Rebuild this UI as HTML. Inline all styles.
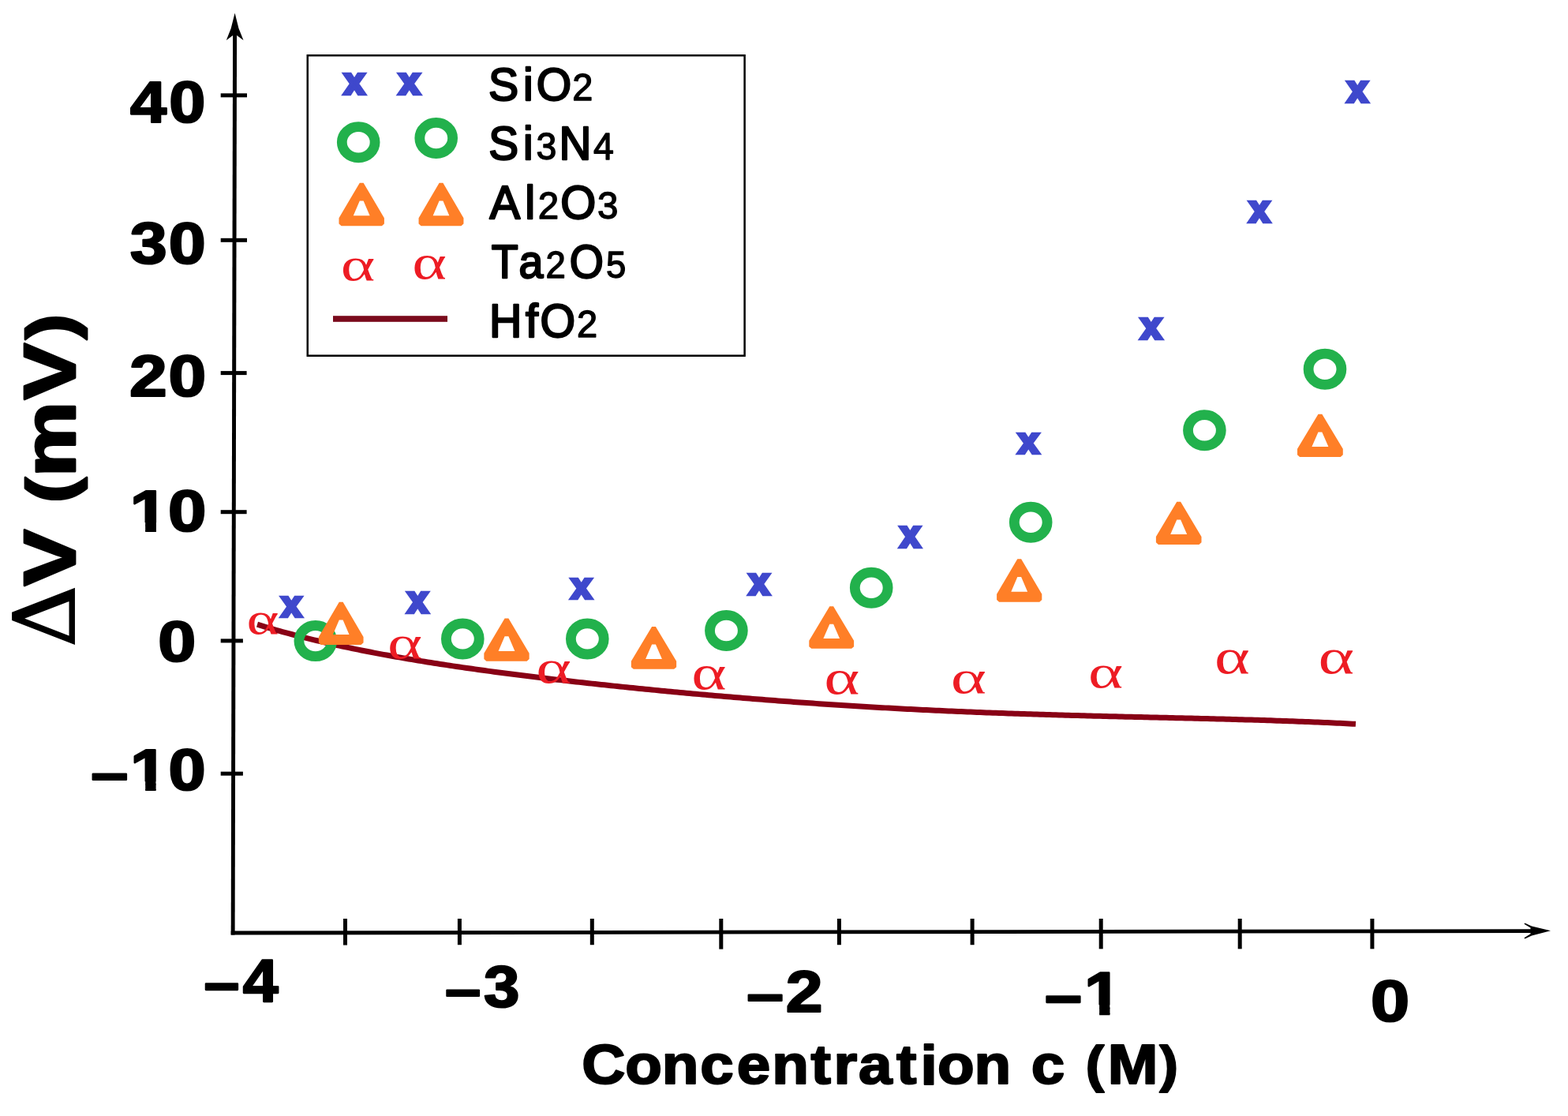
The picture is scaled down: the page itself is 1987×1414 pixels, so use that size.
<!DOCTYPE html>
<html><head><meta charset="utf-8"><title>Delta V vs concentration</title>
<style>html,body{margin:0;padding:0;background:#fff;overflow:hidden}svg{display:block}</style></head>
<body><svg width="1987" height="1414" viewBox="0 0 1987 1414">
<defs><clipPath id="nf1" clipPathUnits="userSpaceOnUse"><path clip-rule="evenodd" d="M-100000,-100000 H100000 V100000 H-100000 Z M190.62,-15.00 H211.22 V4.00 H190.62 Z M227.02,-15.00 H245.62 V4.00 H227.02 Z"/></clipPath><clipPath id="nf2" clipPathUnits="userSpaceOnUse"><path clip-rule="evenodd" d="M-100000,-100000 H100000 V100000 H-100000 Z M196.36,-15.00 H216.96 V4.00 H196.36 Z M232.76,-15.00 H251.36 V4.00 H232.76 Z"/></clipPath><clipPath id="nf3" clipPathUnits="userSpaceOnUse"><path clip-rule="evenodd" d="M-100000,-100000 H100000 V100000 H-100000 Z M1630.24,-15.00 H1650.84 V4.00 H1630.24 Z M1666.64,-15.00 H1685.24 V4.00 H1666.64 Z"/></clipPath></defs>
<rect width="1987" height="1414" fill="#fff"/>
<g id="axes" fill="#000">
<polygon points="295.1,40 300.1,40 297.6,1184.5 292.7,1184.5"/>
<polygon points="292.7,1179.6 1942,1177.2 1942,1181.9 292.7,1184.5"/>
<path d="M297.6,16.5 L302.5,36 L308.5,51 L297.6,43 L286.8,51 L292.7,36 Z"/>
<path d="M1965,1179.3 L1941,1173.4 L1932.3,1169.4 L1931.5,1170.8 L1939.5,1175.6 L1939.5,1183.2 L1931.5,1188.2 L1932.3,1189.6 L1941,1185.4 Z"/>
<rect x="279.7" y="118.3" width="33.3" height="5"/>
<rect x="279.7" y="301.8" width="33.3" height="5"/>
<rect x="279.7" y="470.1" width="32.9" height="5"/>
<rect x="279.7" y="646.2" width="32.9" height="5"/>
<rect x="279.7" y="809.4" width="28.2" height="5"/>
<rect x="279.7" y="977.7" width="28.2" height="5"/>
<rect x="435.0" y="1164" width="5" height="33.5"/>
<rect x="579.9" y="1164" width="5" height="33.2"/>
<rect x="747.8" y="1164" width="5" height="33.2"/>
<rect x="911.3" y="1164" width="5" height="38.6"/>
<rect x="1060.9" y="1164" width="5" height="33.2"/>
<rect x="1229.6" y="1164" width="5" height="33.2"/>
<rect x="1392.7" y="1164" width="5" height="38.3"/>
<rect x="1568.7" y="1164" width="5" height="38.3"/>
<rect x="1736.4" y="1164" width="5" height="38.3"/>
</g>
<rect x="389.75" y="70.25" width="553.85" height="380.45" fill="none" stroke="#000" stroke-width="2.5"/>
<rect x="422" y="400.2" width="145" height="7.6" fill="#7a0a1c"/>
<polyline points="326.0,791.20 330.0,792.42 334.0,793.63 338.0,794.82 342.0,795.99 346.0,797.14 350.0,798.28 354.0,799.41 358.0,800.52 362.0,801.61 366.0,802.69 370.0,803.75 374.0,804.80 378.0,805.84 382.0,806.86 386.0,807.86 390.0,808.86 394.0,809.84 398.0,810.81 402.0,811.76 406.0,812.71 410.0,813.64 414.0,814.56 418.0,815.46 422.0,816.36 426.0,817.25 430.0,818.12 434.0,818.98 438.0,819.84 442.0,820.68 446.0,821.51 450.0,822.33 454.0,823.15 458.0,823.95 462.0,824.74 466.0,825.53 470.0,826.30 474.0,827.07 478.0,827.83 482.0,828.58 486.0,829.32 490.0,830.05 494.0,830.78 498.0,831.50 502.0,832.21 506.0,832.91 510.0,833.61 514.0,834.30 518.0,834.98 522.0,835.65 526.0,836.32 530.0,836.98 534.0,837.64 538.0,838.28 542.0,838.93 546.0,839.56 550.0,840.19 554.0,840.82 558.0,841.43 562.0,842.05 566.0,842.66 570.0,843.26 574.0,843.85 578.0,844.45 582.0,845.03 586.0,845.61 590.0,846.19 594.0,846.76 598.0,847.33 602.0,847.89 606.0,848.45 610.0,849.01 614.0,849.55 618.0,850.10 622.0,850.64 626.0,851.18 630.0,851.71 634.0,852.24 638.0,852.77 642.0,853.29 646.0,853.80 650.0,854.32 654.0,854.83 658.0,855.33 662.0,855.84 666.0,856.34 670.0,856.83 674.0,857.33 678.0,857.82 682.0,858.30 686.0,858.79 690.0,859.27 694.0,859.75 698.0,860.22 702.0,860.69 706.0,861.16 710.0,861.62 714.0,862.09 718.0,862.55 722.0,863.00 726.0,863.46 730.0,863.91 734.0,864.36 738.0,864.80 742.0,865.25 746.0,865.69 750.0,866.13 754.0,866.56 758.0,867.00 762.0,867.43 766.0,867.85 770.0,868.28 774.0,868.70 778.0,869.12 782.0,869.54 786.0,869.96 790.0,870.37 794.0,870.78 798.0,871.19 802.0,871.60 806.0,872.00 810.0,872.41 814.0,872.81 818.0,873.20 822.0,873.60 826.0,873.99 830.0,874.38 834.0,874.77 838.0,875.16 842.0,875.54 846.0,875.92 850.0,876.30 854.0,876.68 858.0,877.06 862.0,877.43 866.0,877.80 870.0,878.17 874.0,878.54 878.0,878.90 882.0,879.26 886.0,879.62 890.0,879.98 894.0,880.34 898.0,880.69 902.0,881.04 906.0,881.39 910.0,881.74 914.0,882.08 918.0,882.42 922.0,882.76 926.0,883.10 930.0,883.44 934.0,883.77 938.0,884.10 942.0,884.43 946.0,884.76 950.0,885.08 954.0,885.40 958.0,885.72 962.0,886.04 966.0,886.36 970.0,886.67 974.0,886.98 978.0,887.29 982.0,887.60 986.0,887.90 990.0,888.20 994.0,888.50 998.0,888.80 1002.0,889.10 1006.0,889.39 1010.0,889.68 1014.0,889.97 1018.0,890.25 1022.0,890.54 1026.0,890.82 1030.0,891.10 1034.0,891.37 1038.0,891.65 1042.0,891.92 1046.0,892.19 1050.0,892.46 1054.0,892.72 1058.0,892.98 1062.0,893.24 1066.0,893.50 1070.0,893.76 1074.0,894.01 1078.0,894.26 1082.0,894.51 1086.0,894.76 1090.0,895.00 1094.0,895.24 1098.0,895.48 1102.0,895.72 1106.0,895.95 1110.0,896.18 1114.0,896.41 1118.0,896.64 1122.0,896.87 1126.0,897.09 1130.0,897.31 1134.0,897.53 1138.0,897.74 1142.0,897.96 1146.0,898.17 1150.0,898.38 1154.0,898.58 1158.0,898.79 1162.0,898.99 1166.0,899.19 1170.0,899.39 1174.0,899.58 1178.0,899.78 1182.0,899.97 1186.0,900.15 1190.0,900.34 1194.0,900.52 1198.0,900.71 1202.0,900.89 1206.0,901.06 1210.0,901.24 1214.0,901.41 1218.0,901.58 1222.0,901.75 1226.0,901.92 1230.0,902.08 1234.0,902.25 1238.0,902.41 1242.0,902.57 1246.0,902.72 1250.0,902.88 1254.0,903.03 1258.0,903.18 1262.0,903.33 1266.0,903.48 1270.0,903.62 1274.0,903.77 1278.0,903.91 1282.0,904.05 1286.0,904.19 1290.0,904.32 1294.0,904.46 1298.0,904.59 1302.0,904.72 1306.0,904.85 1310.0,904.98 1314.0,905.10 1318.0,905.23 1322.0,905.35 1326.0,905.47 1330.0,905.59 1334.0,905.71 1338.0,905.83 1342.0,905.94 1346.0,906.06 1350.0,906.17 1354.0,906.28 1358.0,906.40 1362.0,906.50 1366.0,906.61 1370.0,906.72 1374.0,906.83 1378.0,906.93 1382.0,907.04 1386.0,907.14 1390.0,907.24 1394.0,907.34 1398.0,907.44 1402.0,907.54 1406.0,907.64 1410.0,907.74 1414.0,907.84 1418.0,907.94 1422.0,908.03 1426.0,908.13 1430.0,908.23 1434.0,908.32 1438.0,908.42 1442.0,908.51 1446.0,908.60 1450.0,908.70 1454.0,908.79 1458.0,908.88 1462.0,908.98 1466.0,909.07 1470.0,909.17 1474.0,909.26 1478.0,909.35 1482.0,909.45 1486.0,909.54 1490.0,909.63 1494.0,909.73 1498.0,909.82 1502.0,909.92 1506.0,910.01 1510.0,910.11 1514.0,910.21 1518.0,910.31 1522.0,910.40 1526.0,910.50 1530.0,910.60 1534.0,910.70 1538.0,910.81 1542.0,910.91 1546.0,911.01 1550.0,911.12 1554.0,911.22 1558.0,911.33 1562.0,911.44 1566.0,911.55 1570.0,911.66 1574.0,911.78 1578.0,911.89 1582.0,912.01 1586.0,912.12 1590.0,912.24 1594.0,912.36 1598.0,912.49 1602.0,912.61 1606.0,912.74 1610.0,912.87 1614.0,913.00 1618.0,913.13 1622.0,913.27 1626.0,913.41 1630.0,913.55 1634.0,913.69 1638.0,913.83 1642.0,913.98 1646.0,914.13 1650.0,914.28 1654.0,914.44 1658.0,914.60 1662.0,914.76 1666.0,914.92 1670.0,915.09 1674.0,915.26 1678.0,915.43 1682.0,915.61 1686.0,915.79 1690.0,915.97 1694.0,916.16 1698.0,916.35 1702.0,916.54 1706.0,916.74 1710.0,916.94 1714.0,917.14 1718.0,917.35" fill="none" stroke="#880015" stroke-width="7" stroke-linejoin="round"/>
<ellipse cx="454.2" cy="180.2" rx="20.9" ry="19.6" fill="none" stroke="#22B14C" stroke-width="12.8"/>
<ellipse cx="552.7" cy="175" rx="20.9" ry="19.6" fill="none" stroke="#22B14C" stroke-width="12.8"/>
<ellipse cx="399.8" cy="812.1" rx="20.9" ry="19.6" fill="none" stroke="#22B14C" stroke-width="12.8"/>
<ellipse cx="586.3" cy="809.4" rx="20.9" ry="19.6" fill="none" stroke="#22B14C" stroke-width="12.8"/>
<ellipse cx="744.3" cy="809.4" rx="20.9" ry="19.6" fill="none" stroke="#22B14C" stroke-width="12.8"/>
<ellipse cx="920.4" cy="799" rx="20.9" ry="19.6" fill="none" stroke="#22B14C" stroke-width="12.8"/>
<ellipse cx="1104.2" cy="744.8" rx="20.9" ry="19.6" fill="none" stroke="#22B14C" stroke-width="12.8"/>
<ellipse cx="1306.2" cy="661.7" rx="20.9" ry="19.6" fill="none" stroke="#22B14C" stroke-width="12.8"/>
<ellipse cx="1526.4" cy="545.2" rx="20.9" ry="19.6" fill="none" stroke="#22B14C" stroke-width="12.8"/>
<ellipse cx="1679" cy="467.8" rx="20.9" ry="19.6" fill="none" stroke="#22B14C" stroke-width="12.8"/>
<path transform="translate(458.2,231.7) scale(1.0035,1.0055)" d="M-2.4,0 L2.4,0 L28.6,44.2 L28.6,51.6 L25.6,54.3 L-25.6,54.3 L-28.6,51.6 L-28.6,44.2 Z M-2.4,22.7 L2.4,22.7 L10.4,41.4 L-10.4,41.4 Z" fill="#FF7F27" fill-rule="evenodd"/>
<path transform="translate(559,231.7) scale(0.9948,1.0055)" d="M-2.4,0 L2.4,0 L28.6,44.2 L28.6,51.6 L25.6,54.3 L-25.6,54.3 L-28.6,51.6 L-28.6,44.2 Z M-2.4,22.7 L2.4,22.7 L10.4,41.4 L-10.4,41.4 Z" fill="#FF7F27" fill-rule="evenodd"/>
<path transform="translate(432.2,762.7) scale(0.9913,1.0000)" d="M-2.4,0 L2.4,0 L28.6,44.2 L28.6,51.6 L25.6,54.3 L-25.6,54.3 L-28.6,51.6 L-28.6,44.2 Z M-2.4,22.7 L2.4,22.7 L10.4,41.4 L-10.4,41.4 Z" fill="#FF7F27" fill-rule="evenodd"/>
<path transform="translate(642,783.5) scale(1.0017,1.0000)" d="M-2.4,0 L2.4,0 L28.6,44.2 L28.6,51.6 L25.6,54.3 L-25.6,54.3 L-28.6,51.6 L-28.6,44.2 Z M-2.4,22.7 L2.4,22.7 L10.4,41.4 L-10.4,41.4 Z" fill="#FF7F27" fill-rule="evenodd"/>
<path transform="translate(828.5,794.1) scale(1.0017,0.9890)" d="M-2.4,0 L2.4,0 L28.6,44.2 L28.6,51.6 L25.6,54.3 L-25.6,54.3 L-28.6,51.6 L-28.6,44.2 Z M-2.4,22.7 L2.4,22.7 L10.4,41.4 L-10.4,41.4 Z" fill="#FF7F27" fill-rule="evenodd"/>
<path transform="translate(1053.7,768.3) scale(0.9930,0.9853)" d="M-2.4,0 L2.4,0 L28.6,44.2 L28.6,51.6 L25.6,54.3 L-25.6,54.3 L-28.6,51.6 L-28.6,44.2 Z M-2.4,22.7 L2.4,22.7 L10.4,41.4 L-10.4,41.4 Z" fill="#FF7F27" fill-rule="evenodd"/>
<path transform="translate(1291.7,708.3) scale(1.0000,1.0037)" d="M-2.4,0 L2.4,0 L28.6,44.2 L28.6,51.6 L25.6,54.3 L-25.6,54.3 L-28.6,51.6 L-28.6,44.2 Z M-2.4,22.7 L2.4,22.7 L10.4,41.4 L-10.4,41.4 Z" fill="#FF7F27" fill-rule="evenodd"/>
<path transform="translate(1493.7,635.7) scale(1.0070,1.0000)" d="M-2.4,0 L2.4,0 L28.6,44.2 L28.6,51.6 L25.6,54.3 L-25.6,54.3 L-28.6,51.6 L-28.6,44.2 Z M-2.4,22.7 L2.4,22.7 L10.4,41.4 L-10.4,41.4 Z" fill="#FF7F27" fill-rule="evenodd"/>
<path transform="translate(1672.9,524.8) scale(1.0105,0.9963)" d="M-2.4,0 L2.4,0 L28.6,44.2 L28.6,51.6 L25.6,54.3 L-25.6,54.3 L-28.6,51.6 L-28.6,44.2 Z M-2.4,22.7 L2.4,22.7 L10.4,41.4 L-10.4,41.4 Z" fill="#FF7F27" fill-rule="evenodd"/>
<text transform="matrix(0.4625 0 0 0.4603 436.20 118.70)" font-family="'Liberation Sans', Arial, sans-serif" font-weight="bold" font-size="100" fill="#3F48CC" stroke="#3F48CC" stroke-width="10" stroke-linejoin="miter">x</text>
<text transform="matrix(0.4694 0 0 0.4603 505.76 118.70)" font-family="'Liberation Sans', Arial, sans-serif" font-weight="bold" font-size="100" fill="#3F48CC" stroke="#3F48CC" stroke-width="10" stroke-linejoin="miter">x</text>
<text transform="matrix(0.4542 0 0 0.4460 356.63 780.77)" font-family="'Liberation Sans', Arial, sans-serif" font-weight="bold" font-size="100" fill="#3F48CC" stroke="#3F48CC" stroke-width="10" stroke-linejoin="miter">x</text>
<text transform="matrix(0.4625 0 0 0.4540 516.40 775.93)" font-family="'Liberation Sans', Arial, sans-serif" font-weight="bold" font-size="100" fill="#3F48CC" stroke="#3F48CC" stroke-width="10" stroke-linejoin="miter">x</text>
<text transform="matrix(0.4583 0 0 0.4460 723.97 757.67)" font-family="'Liberation Sans', Arial, sans-serif" font-weight="bold" font-size="100" fill="#3F48CC" stroke="#3F48CC" stroke-width="10" stroke-linejoin="miter">x</text>
<text transform="matrix(0.4611 0 0 0.4556 949.19 752.62)" font-family="'Liberation Sans', Arial, sans-serif" font-weight="bold" font-size="100" fill="#3F48CC" stroke="#3F48CC" stroke-width="10" stroke-linejoin="miter">x</text>
<text transform="matrix(0.4542 0 0 0.4556 1140.83 693.12)" font-family="'Liberation Sans', Arial, sans-serif" font-weight="bold" font-size="100" fill="#3F48CC" stroke="#3F48CC" stroke-width="10" stroke-linejoin="miter">x</text>
<text transform="matrix(0.4625 0 0 0.4524 1290.40 574.14)" font-family="'Liberation Sans', Arial, sans-serif" font-weight="bold" font-size="100" fill="#3F48CC" stroke="#3F48CC" stroke-width="10" stroke-linejoin="miter">x</text>
<text transform="matrix(0.4708 0 0 0.4603 1445.87 429.30)" font-family="'Liberation Sans', Arial, sans-serif" font-weight="bold" font-size="100" fill="#3F48CC" stroke="#3F48CC" stroke-width="10" stroke-linejoin="miter">x</text>
<text transform="matrix(0.4597 0 0 0.4540 1583.18 281.43)" font-family="'Liberation Sans', Arial, sans-serif" font-weight="bold" font-size="100" fill="#3F48CC" stroke="#3F48CC" stroke-width="10" stroke-linejoin="miter">x</text>
<text transform="matrix(0.4597 0 0 0.4556 1707.38 128.82)" font-family="'Liberation Sans', Arial, sans-serif" font-weight="bold" font-size="100" fill="#3F48CC" stroke="#3F48CC" stroke-width="10" stroke-linejoin="miter">x</text>
<text transform="matrix(0.8304 0 0 0.5875 431.68 355.21)" font-family="'Liberation Serif', 'Times New Roman', serif" font-size="100" fill="#ED1C24">α</text>
<text transform="matrix(0.8348 0 0 0.6083 522.16 353.49)" font-family="'Liberation Serif', 'Times New Roman', serif" font-size="100" fill="#ED1C24">α</text>
<text transform="matrix(0.7826 0 0 0.5729 312.57 802.73)" font-family="'Liberation Serif', 'Times New Roman', serif" font-size="100" fill="#ED1C24">α</text>
<text transform="matrix(0.8413 0 0 0.5854 490.93 834.11)" font-family="'Liberation Serif', 'Times New Roman', serif" font-size="100" fill="#ED1C24">α</text>
<text transform="matrix(0.8543 0 0 0.5875 679.18 865.41)" font-family="'Liberation Serif', 'Times New Roman', serif" font-size="100" fill="#ED1C24">α</text>
<text transform="matrix(0.8457 0 0 0.6042 876.32 873.40)" font-family="'Liberation Serif', 'Times New Roman', serif" font-size="100" fill="#ED1C24">α</text>
<text transform="matrix(0.8609 0 0 0.6021 1044.26 878.60)" font-family="'Liberation Serif', 'Times New Roman', serif" font-size="100" fill="#ED1C24">α</text>
<text transform="matrix(0.8609 0 0 0.5896 1204.66 878.01)" font-family="'Liberation Serif', 'Times New Roman', serif" font-size="100" fill="#ED1C24">α</text>
<text transform="matrix(0.8435 0 0 0.5875 1378.93 870.61)" font-family="'Liberation Serif', 'Times New Roman', serif" font-size="100" fill="#ED1C24">α</text>
<text transform="matrix(0.8543 0 0 0.6292 1538.88 853.37)" font-family="'Liberation Serif', 'Times New Roman', serif" font-size="100" fill="#ED1C24">α</text>
<text transform="matrix(0.8696 0 0 0.6292 1670.52 853.37)" font-family="'Liberation Serif', 'Times New Roman', serif" font-size="100" fill="#ED1C24">α</text>
<text transform="matrix(0.8297 0 0 0.7356 0 155.23)" x="198.87 258.27" y="0" font-family="'Liberation Sans', Arial, sans-serif" font-weight="bold" font-size="100" fill="#000" stroke="#000" stroke-width="3.0" stroke-linejoin="round">40</text>
<text transform="matrix(0.8446 0 0 0.7438 0 334.01)" x="195.11 253.21" y="0" font-family="'Liberation Sans', Arial, sans-serif" font-weight="bold" font-size="100" fill="#000" stroke="#000" stroke-width="3.0" stroke-linejoin="round">30</text>
<text transform="matrix(0.8588 0 0 0.7397 0 502.22)" x="190.94 248.58" y="0" font-family="'Liberation Sans', Arial, sans-serif" font-weight="bold" font-size="100" fill="#000" stroke="#000" stroke-width="3.0" stroke-linejoin="round">20</text>
<text transform="matrix(0.8719 0 0 0.7397 0 673.12)" x="188.62 244.25" y="0" clip-path="url(#nf1)" font-family="'Liberation Sans', Arial, sans-serif" font-weight="bold" font-size="100" fill="#000" stroke="#000" stroke-width="3.0" stroke-linejoin="round">10</text>
<text transform="matrix(0.8647 0 0 0.7247 0 838.15)" x="231.61" y="0" font-family="'Liberation Sans', Arial, sans-serif" font-weight="bold" font-size="100" fill="#000" stroke="#000" stroke-width="3.0" stroke-linejoin="round">0</text>
<text transform="matrix(0.8490 0 0 0.7329 0 1001.33)" x="135.89 194.36 251.46" y="3.42 0.00 0.00" clip-path="url(#nf2)" font-family="'Liberation Sans', Arial, sans-serif" font-weight="bold" font-size="100" fill="#000" stroke="#000" stroke-width="3.0" stroke-linejoin="round">–10</text>
<text transform="matrix(0.8080 0 0 0.7521 0 1268.75)" x="320.07 380.89" y="2.87 0.00" font-family="'Liberation Sans', Arial, sans-serif" font-weight="bold" font-size="100" fill="#000" stroke="#000" stroke-width="3.0" stroke-linejoin="round">–4</text>
<text transform="matrix(0.8163 0 0 0.7356 0 1275.83)" x="691.06 751.04" y="3.44 0.00" font-family="'Liberation Sans', Arial, sans-serif" font-weight="bold" font-size="100" fill="#000" stroke="#000" stroke-width="3.0" stroke-linejoin="round">–3</text>
<text transform="matrix(0.8416 0 0 0.7417 0 1281.86)" x="1124.39 1183.17" y="2.25 0.00" font-family="'Liberation Sans', Arial, sans-serif" font-weight="bold" font-size="100" fill="#000" stroke="#000" stroke-width="3.0" stroke-linejoin="round">–2</text>
<text transform="matrix(0.8439 0 0 0.7606 0 1284.54)" x="1568.98 1628.24" y="2.89 0.00" clip-path="url(#nf3)" font-family="'Liberation Sans', Arial, sans-serif" font-weight="bold" font-size="100" fill="#000" stroke="#000" stroke-width="3.0" stroke-linejoin="round">–1</text>
<text transform="matrix(0.8843 0 0 0.7397 0 1293.52)" x="1964.38" y="0" font-family="'Liberation Sans', Arial, sans-serif" font-weight="bold" font-size="100" fill="#000" stroke="#000" stroke-width="3.0" stroke-linejoin="round">0</text>
<text transform="matrix(0.7646 0 0 0.7014 0 1372.90)" x="964.33 1036.15 1097.03 1160.35 1221.22 1279.28 1343.85 1381.94 1422.89 1485.61 1525.54 1553.79 1614.53 1648.53 1708.97 1742.97 1799.45 1835.87 1922.07" y="0.00 0.00 0.00 0.00 0.00 0.00 0.00 0.00 0.00 0.00 0.86 0.00 0.00 0.00 0.00 0.00 -2.73 0.00 -2.73" font-family="'Liberation Sans', Arial, sans-serif" font-weight="bold" font-size="100" fill="#000" stroke="#000" stroke-width="3.0" stroke-linejoin="round">Concentration c <tspan font-size="92.0">(</tspan>M<tspan font-size="92.0">)</tspan></text>
<text transform="matrix(0 -1.0774 0.9296 0 94.57 0)" x="-689.18 -655.18 -591.50 -561.08 -470.08 -399.03" y="0.00 0.00 -1.91 0.00 0.00 -1.59" font-family="'Liberation Sans', Arial, sans-serif" font-weight="bold" font-size="100" fill="#000" stroke="#000" stroke-width="3.0" stroke-linejoin="round">V <tspan font-size="90.0">(</tspan>mV<tspan font-size="90.0">)</tspan></text>
<text transform="matrix(0 -1.0818 1.0703 0 94.43 819.85)" font-family="'DejaVu Serif', 'Liberation Serif', serif" font-size="100" fill="#000" stroke="#000" stroke-width="1.8">Δ</text>
<text transform="matrix(0.5720 0 0 0.5773 0 126.57)" x="1082.31 1159.01 1188.18 1268.09" y="0" font-family="'Liberation Sans', Arial, sans-serif" font-size="100" fill="#000" stroke="#000" stroke-width="4" stroke-linejoin="round">SiO<tspan font-size="82.0" stroke-width="2.4">2</tspan></text>
<text transform="matrix(0.5670 0 0 0.5945 0 202.21)" x="1092.10 1169.28 1198.52 1249.48 1326.21" y="0" font-family="'Liberation Sans', Arial, sans-serif" font-size="100" fill="#000" stroke="#000" stroke-width="4" stroke-linejoin="round">Si<tspan font-size="82.0" stroke-width="2.4">3</tspan>N<tspan font-size="82.0" stroke-width="2.4">4</tspan></text>
<text transform="matrix(0.5791 0 0 0.5959 0 277.01)" x="1071.54 1148.72 1177.20 1226.47 1307.38" y="0" font-family="'Liberation Sans', Arial, sans-serif" font-size="100" fill="#000" stroke="#000" stroke-width="4" stroke-linejoin="round">Al<tspan font-size="82.0" stroke-width="2.4">2</tspan>O<tspan font-size="82.0" stroke-width="2.4">3</tspan></text>
<text transform="matrix(0.5552 0 0 0.5890 0 352.02)" x="1121.70 1184.16 1245.38 1299.99 1383.23" y="0" font-family="'Liberation Sans', Arial, sans-serif" font-size="100" fill="#000" stroke="#000" stroke-width="4" stroke-linejoin="round">Ta<tspan font-size="82.0" stroke-width="2.4">2</tspan>O<tspan font-size="82.0" stroke-width="2.4">5</tspan></text>
<text transform="matrix(0.5734 0 0 0.5890 0 427.02)" x="1081.13 1161.40 1193.58 1275.06" y="0" font-family="'Liberation Sans', Arial, sans-serif" font-size="100" fill="#000" stroke="#000" stroke-width="4" stroke-linejoin="round">HfO<tspan font-size="82.0" stroke-width="2.4">2</tspan></text>
</svg></body></html>
